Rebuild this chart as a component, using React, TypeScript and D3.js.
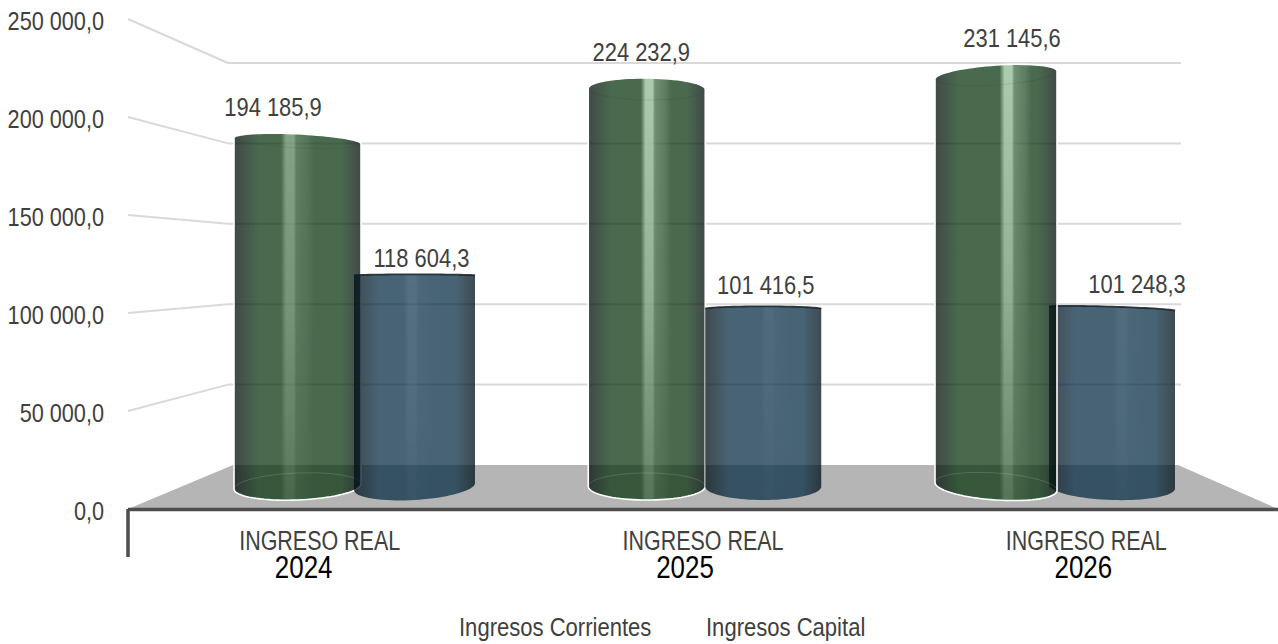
import React from 'react';
import * as d3 from 'd3';

const years = ['2024', '2025', '2026'];
const categoryLabel = 'INGRESO REAL';
const ingresosCorrientes = [194185.9, 224232.9, 231145.6];
const ingresosCapital = [118604.3, 101416.5, 101248.3];
const valueTicks = [0, 50000, 100000, 150000, 200000, 250000];
const legendLabels = ['Ingresos Corrientes', 'Ingresos Capital'];

const width = 1278;
const height = 644;

// the picture has a hand-tuned perspective, so each cylinder has its own shape
interface Shape {
  w: number;
  topRy: number;
  topTilt: number;
  baseTilt: number;
  shine: number;
  shineAt: number;
  labelDx: number;
  labelY: number;
}
const greenShapes: Shape[] = [
  { w: 127, topRy: 7, topTilt: 3, baseTilt: -2.5, shine: 0.42, shineAt: 0.44, labelDx: -24.5, labelY: 107 },
  { w: 117, topRy: 11, topTilt: 0.5, baseTilt: 0, shine: 0.72, shineAt: 0.52, labelDx: -5.5, labelY: 52 },
  { w: 122, topRy: 10, topTilt: -4, baseTilt: 4, shine: 0.72, shineAt: 0.6, labelDx: 16, labelY: 38 },
];
const blueShapes: Shape[] = [
  { w: 121, topRy: 1, topTilt: 0, baseTilt: -3.5, shine: 0.1, shineAt: 0.48, labelDx: 7, labelY: 258 },
  { w: 116, topRy: 2.5, topTilt: 0, baseTilt: 0, shine: 0.06, shineAt: 0.55, labelDx: 2.5, labelY: 285 },
  { w: 126, topRy: 2, topTilt: 2, baseTilt: 2, shine: 0.07, shineAt: 0.58, labelDx: 25, labelY: 284 },
];
const overlaps = [7, 0, 8];
const yearLabelDx = [-16, -18, -3];

const groupX = d3.scalePoint<string>().domain(years).range([357.5, 1053]);
const labelX = d3.scaleBand<string>().domain(years).range([128, 1278]);
const yBar = d3.scaleLinear().domain([0, 250000]).range([495, 30]);
const yWall = d3.scaleLinear().domain([0, 250000]).range([465, 63]);
const yFront = d3.scaleLinear().domain([0, 250000]).range([509, 19]);

const fmt = (v: number) => {
  const [a, b] = v.toFixed(1).split('.');
  return a.replace(/\B(?=(\d{3})+$)/g, ' ') + ',' + b;
};

const baseCy = 486.5;
const baseRy = 13.5;

// half of a tilted ellipse, walked from `from` to `to` radians
const arcPoints = (cx: number, cy: number, rx: number, ry: number, tilt: number, from: number, to: number) =>
  d3.range(0, 41).map(i => {
    const t = from + ((to - from) * i) / 40;
    return [cx + rx * Math.cos(t), cy + ry * Math.sin(t) + tilt * Math.cos(t)] as [number, number];
  });

const line = d3.line();

const bodyPath = (x0: number, value: number, s: Shape) => {
  const rx = s.w / 2;
  const cx = x0 + rx;
  const cy = yBar(value) + s.topRy;
  const top = arcPoints(cx, cy, rx, s.topRy, s.topTilt, Math.PI, 2 * Math.PI);
  const bottom = arcPoints(cx, baseCy, rx, baseRy, s.baseTilt, 0, Math.PI);
  return line([...top, ...bottom]) + 'Z';
};

// no narrow font is installed, so the regular one gets squeezed
const Narrow: React.FC<{ x: number; y: number; size: number; sx: number; fill?: string; anchor?: string; children: React.ReactNode }> = ({
  x, y, size, sx, fill = '#404040', anchor = 'middle', children,
}) => (
  <text transform={`translate(${x},${y}) scale(${sx},1)`} fontSize={size} fill={fill} textAnchor={anchor}>
    {children}
  </text>
);

const Cylinder: React.FC<{ id: string; x0: number; value: number; s: Shape; edge: string; main: string; shade: string; glow: string; rim: boolean }> = ({
  id, x0, value, s, edge, main, shade, glow, rim,
}) => {
  const rx = s.w / 2;
  const cx = x0 + rx;
  const d = bodyPath(x0, value, s);
  const h = s.shineAt;
  const capLow = line(arcPoints(cx, yBar(value) + s.topRy, rx, s.topRy, s.topTilt, 0, Math.PI));
  const capHigh = line(arcPoints(cx, yBar(value) + s.topRy, rx, s.topRy, s.topTilt, Math.PI, 2 * Math.PI));
  const baseBack = line(arcPoints(cx, baseCy, rx, baseRy, s.baseTilt, Math.PI, 2 * Math.PI));
  return (
    <g>
      <defs>
        <linearGradient id={`${id}-body`}>
          <stop offset="0" stopColor={edge} />
          <stop offset="0.2" stopColor={main} />
          <stop offset="0.84" stopColor={main} />
          <stop offset="1" stopColor={edge} />
        </linearGradient>
        <linearGradient id={`${id}-shine`}>
          <stop offset={h - 0.07} stopColor={glow} stopOpacity="0" />
          <stop offset={h - 0.03} stopColor={glow} stopOpacity={s.shine} />
          <stop offset={h + 0.03} stopColor={glow} stopOpacity={s.shine} />
          <stop offset={h + 0.05} stopColor={glow} stopOpacity={s.shine * 0.4} />
          <stop offset={h + 0.14} stopColor={glow} stopOpacity={s.shine * 0.2} />
          <stop offset={h + 0.19} stopColor={glow} stopOpacity="0" />
        </linearGradient>
        <mask id={`${id}-mask`} maskContentUnits="objectBoundingBox">
          <rect width="1" height="1" fill="url(#shineFade)" />
        </mask>
      </defs>
      <path d={d} fill={`url(#${id}-body)`} fillOpacity={0.75} />
      <path d={d} fill={`url(#${id}-shine)`} mask={`url(#${id}-mask)`} />
      {rim && <path d={baseBack ?? ''} fill="none" stroke="#fff" strokeOpacity={0.14} strokeWidth={1} />}
      {rim && <path d={capLow ?? ''} fill="none" stroke={shade} strokeOpacity={0.12} strokeWidth={1} />}
      {!rim && <path d={capHigh ?? ''} fill="none" stroke={shade} strokeOpacity={0.85} strokeWidth={1.8} />}
      {rim && <path d={d} fill="none" stroke="#fff" strokeWidth={1.6} />}
    </g>
  );
};

export default function App() {
  const font = '"Liberation Sans", Arial, sans-serif';
  const bars = years.map((year, i) => {
    const gs = greenShapes[i];
    const bs = blueShapes[i];
    const joint = groupX(year) as number;
    const greenRight = joint + overlaps[i] / 2;
    const blueLeft = joint - overlaps[i] / 2;
    return { year, i, gs, bs, greenX: greenRight - gs.w, blueX: blueLeft };
  });

  return (
    <svg
      width={width}
      height={height}
      viewBox={`0 0 ${width} ${height}`}
      style={{ position: 'absolute', left: 0, top: 0, display: 'block' }}
      fontFamily={font}
    >
      <defs>
        <linearGradient id="shineFade" x1="0" y1="0" x2="0" y2="1">
          <stop offset="0" stopColor="#fff" />
          <stop offset="0.5" stopColor="#bbb" />
          <stop offset="1" stopColor="#444" />
        </linearGradient>
      </defs>

      {/* floor */}
      <polygon
        points={`128,${yFront(0)} 233,${yWall(0)} 1178,${yWall(0)} 1278,${yFront(0)}`}
        fill="#b5b5b5"
      />

      {/* back wall grid and side lines */}
      {valueTicks.slice(1).map(t => (
        <g key={t} stroke="#d9d9d9" strokeWidth={2} fill="none">
          <line x1={228} x2={1181} y1={yWall(t)} y2={yWall(t)} />
          <line x1={128} x2={228} y1={yFront(t)} y2={yWall(t)} />
        </g>
      ))}

      {/* cylinders, the third group has its rim over the blue one */}
      {bars.map(({ year, i, gs, bs, greenX, blueX }) => {
        const green = (
          <Cylinder key="g" id={`g${i}`} x0={greenX} value={ingresosCorrientes[i]} s={gs} edge="#000d09" main="#0d3813" shade="#1f2f22" glow="#d4f2d4" rim />
        );
        const blue = (
          <Cylinder key="b" id={`b${i}`} x0={blueX} value={ingresosCapital[i]} s={bs} edge="#000d15" main="#0a3046" shade="#14202a" glow="#cfe6f5" rim={false} />
        );
        return <g key={year}>{i === 2 ? [blue, green] : [green, blue]}</g>;
      })}

      {/* axis frame */}
      <path
        d={`M128,${yFront(0) + 0.5}H1278M128,${yFront(0)}V557`}
        fill="none"
        stroke="#4d4d4d"
        strokeWidth={3.5}
      />

      {/* tick labels */}
      {valueTicks.map(t => (
        <Narrow key={t} x={104} y={yFront(t) + 11} size={25.5} sx={0.85} anchor="end">
          {fmt(t)}
        </Narrow>
      ))}

      {/* value labels */}
      {bars.map(({ year, i, gs, bs, greenX, blueX }) => (
        <g key={year}>
          <Narrow x={greenX + gs.w / 2 + gs.labelDx} y={gs.labelY + 9} size={25.5} sx={0.86}>{fmt(ingresosCorrientes[i])}</Narrow>
          <Narrow x={blueX + bs.w / 2 + bs.labelDx} y={bs.labelY + 9} size={25.5} sx={0.86}>{fmt(ingresosCapital[i])}</Narrow>
        </g>
      ))}

      {/* category labels */}
      {years.map((year, i) => {
        const x = (labelX(year) as number) + labelX.bandwidth() / 2;
        return (
          <g key={year}>
            <Narrow x={x} y={550} size={27} sx={0.795}>{categoryLabel}</Narrow>
            <Narrow x={x + yearLabelDx[i]} y={578} size={32} sx={0.81} fill="#000">{year}</Narrow>
          </g>
        );
      })}

      {/* legend, the original has no swatches */}
      <Narrow x={459} y={636} size={25.5} sx={0.865} anchor="start">{legendLabels[0]}</Narrow>
      <Narrow x={706} y={636} size={25.5} sx={0.865} anchor="start">{legendLabels[1]}</Narrow>
    </svg>
  );
}
